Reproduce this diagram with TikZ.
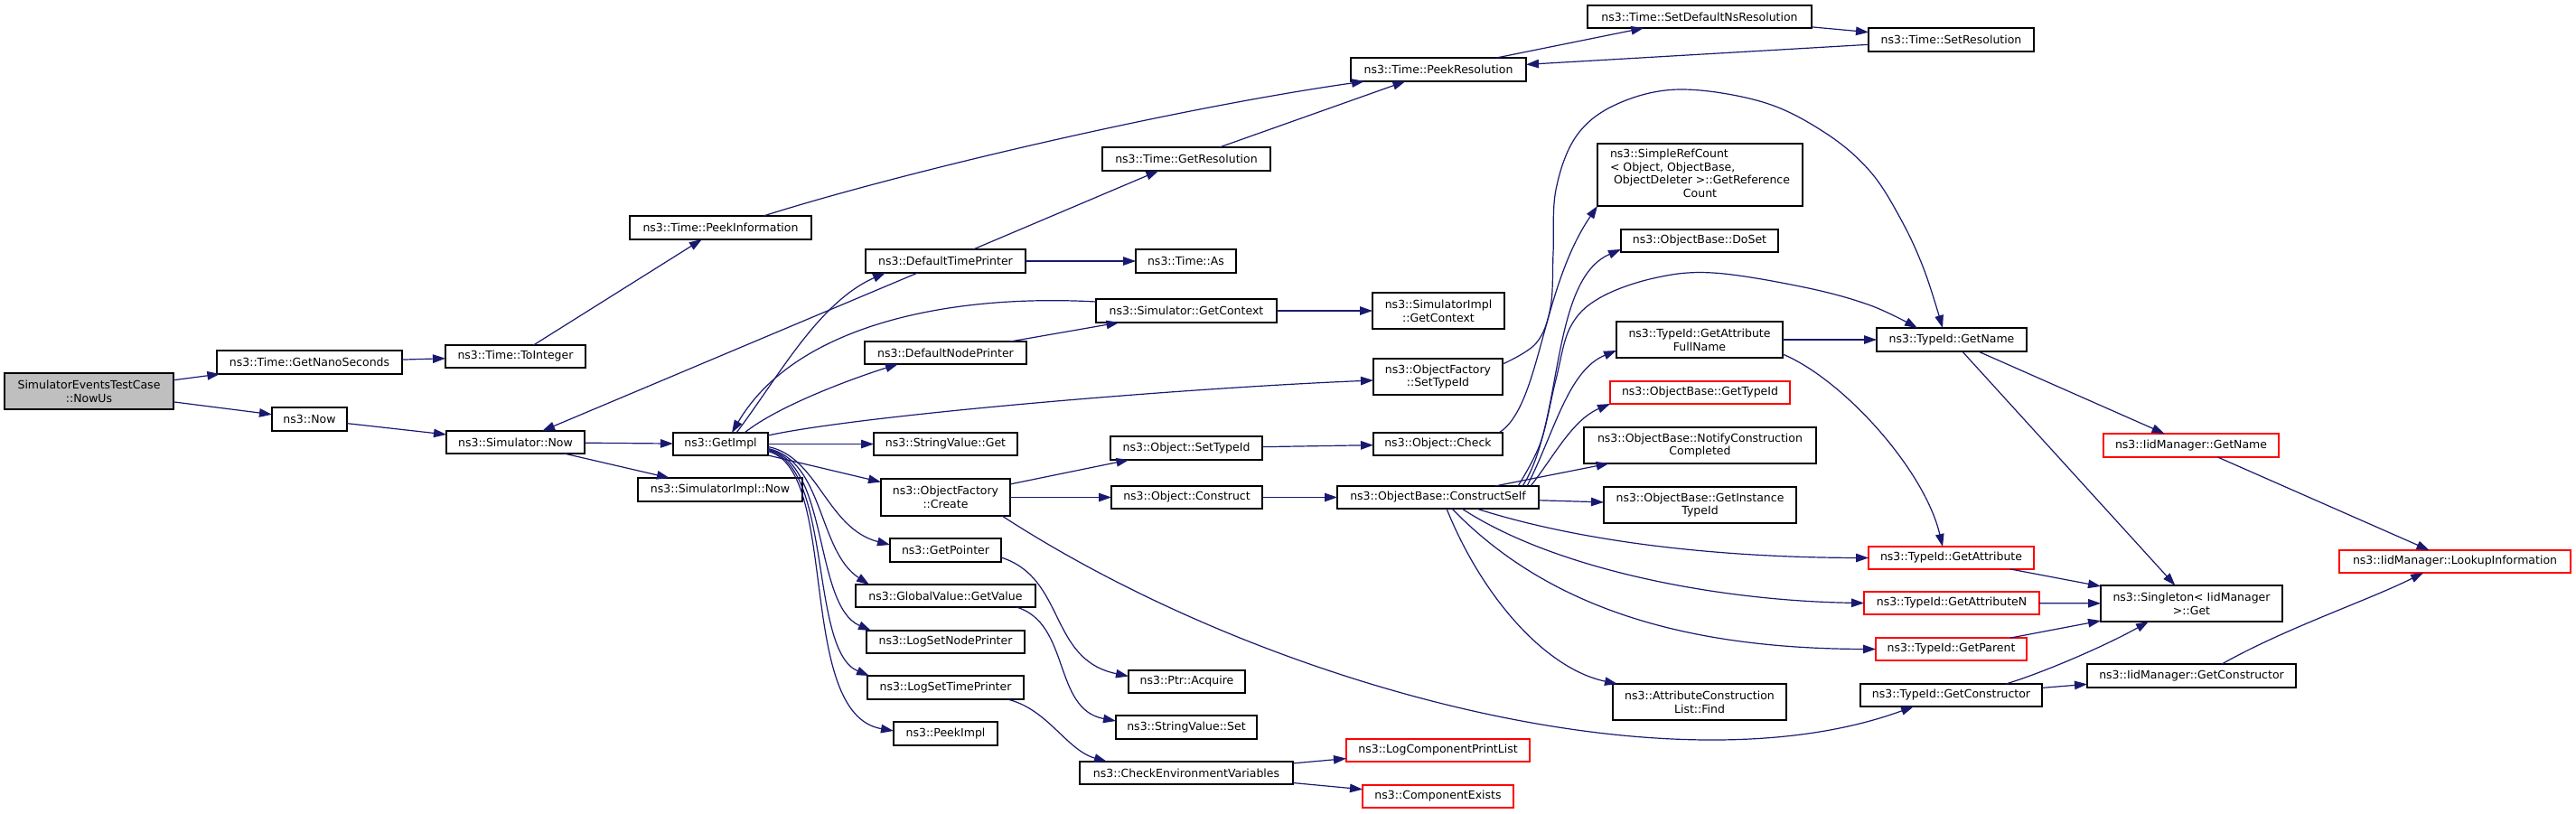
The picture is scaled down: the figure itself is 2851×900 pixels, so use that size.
\documentclass[tikz,border=0pt]{standalone}
\usepackage{fontspec}
\setmainfont{DejaVu Sans}
\usetikzlibrary{arrows.meta,calc}
\definecolor{mblue}{HTML}{191970}
\definecolor{nodegray}{HTML}{BFBFBF}
\begin{document}
\begin{tikzpicture}[x=1pt,y=-1pt,
  box/.style={draw=black, line width=1.2pt, fill=white, inner sep=0pt, outer sep=0pt, align=center, font=\fontsize{12.5}{14.7}\selectfont},
  redbox/.style={box, draw=red},
  call/.style={draw=mblue, line width=1.2pt, -{Triangle[length=14pt,width=9.5pt]}},
]
\fill[white] (0,0) rectangle (2851,900);
\useasboundingbox (0,0) rectangle (2851,900);

% ---------- nodes ----------
\node[box, fill=nodegray, minimum width=187pt, minimum height=40pt] (nowus) at (98.5,433) {SimulatorEventsTestCase\\::NowUs};
\node[box, minimum width=205pt, minimum height=26pt] (getnano) at (342.5,401) {ns3::Time::GetNanoSeconds};
\node[box, minimum width=155pt, minimum height=25pt] (toint) at (570.5,394.5) {ns3::Time::ToInteger};
\node[box, minimum width=83pt, minimum height=26pt] (now) at (342.5,464) {ns3::Now};
\node[box, minimum width=153pt, minimum height=25pt] (simnow) at (570.5,489.5) {ns3::Simulator::Now};
\node[box, minimum width=201pt, minimum height=26pt] (peekinfo) at (797.5,252) {ns3::Time::PeekInformation};
\node[box, minimum width=186pt, minimum height=26pt] (getres) at (1313,176) {ns3::Time::GetResolution};
\node[box, minimum width=177pt, minimum height=26pt] (dtp) at (1046.5,289) {ns3::DefaultTimePrinter};
\node[box, minimum width=111pt, minimum height=26pt] (timeas) at (1312.5,289) {ns3::Time::As};
\node[box, minimum width=200pt, minimum height=26pt] (simgetctx) at (1313,344) {ns3::Simulator::GetContext};
\node[box, minimum width=179pt, minimum height=25pt] (dnp) at (1046.5,390.5) {ns3::DefaultNodePrinter};
\node[box, minimum width=105pt, minimum height=25pt] (getimpl) at (797.5,491.5) {ns3::GetImpl};
\node[box, minimum width=182pt, minimum height=26pt] (simimplnow) at (797,542) {ns3::SimulatorImpl::Now};
\node[box, minimum width=159pt, minimum height=25pt] (svget) at (1046.5,491.5) {ns3::StringValue::Get};
\node[box, minimum width=143pt, minimum height=41pt] (ofcreate) at (1046.5,550.5) {ns3::ObjectFactory\\::Create};
\node[box, minimum width=168pt, minimum height=26pt] (objsettid) at (1313,496) {ns3::Object::SetTypeId};
\node[box, minimum width=167pt, minimum height=25pt] (objconstruct) at (1313.5,550.5) {ns3::Object::Construct};
\node[box, minimum width=123pt, minimum height=26pt] (getpointer) at (1046.5,609) {ns3::GetPointer};
\node[box, minimum width=199pt, minimum height=25pt] (gvgetvalue) at (1046.5,659.5) {ns3::GlobalValue::GetValue};
\node[box, minimum width=175pt, minimum height=25pt] (lsnp) at (1046.5,710.5) {ns3::LogSetNodePrinter};
\node[box, minimum width=173pt, minimum height=26pt] (lstp) at (1046.5,761) {ns3::LogSetTimePrinter};
\node[box, minimum width=115pt, minimum height=26pt] (peekimpl) at (1046.5,812) {ns3::PeekImpl};
\node[box, minimum width=129pt, minimum height=25pt] (ptracq) at (1313.5,754.5) {ns3::Ptr::Acquire};
\node[box, minimum width=156pt, minimum height=26pt] (svset) at (1313,805) {ns3::StringValue::Set};
\node[box, minimum width=236pt, minimum height=25pt] (checkenv) at (1313,855.5) {ns3::CheckEnvironmentVariables};
\node[box, minimum width=194pt, minimum height=26pt] (peekres) at (1592,77) {ns3::Time::PeekResolution};
\node[box, minimum width=248pt, minimum height=25pt] (setdefns) at (1881,18.5) {ns3::Time::SetDefaultNsResolution};
\node[box, minimum width=183pt, minimum height=26pt] (setres) at (2159.5,44) {ns3::Time::SetResolution};
\node[box, minimum width=227pt, minimum height=69pt] (simplerefcount) at (1881.5,193.5) {\begin{tabular}{@{}l@{}}ns3::SimpleRefCount\\< Object, ObjectBase,\\\ ObjectDeleter >::GetReference\\\multicolumn{1}{@{}c@{}}{Count}\end{tabular}};
\node[box, minimum width=174pt, minimum height=25pt] (doset) at (1881,266.5) {ns3::ObjectBase::DoSet};
\node[box, minimum width=146pt, minimum height=40pt] (simimplgetctx) at (1592,344) {ns3::SimulatorImpl\\::GetContext};
\node[box, minimum width=143pt, minimum height=40pt] (ofsettid) at (1591.5,417) {ns3::ObjectFactory\\::SetTypeId};
\node[box, minimum width=184pt, minimum height=40pt] (gafn) at (1881,376) {ns3::TypeId::GetAttribute\\FullName};
\node[redbox, minimum width=199pt, minimum height=25pt] (obgettid) at (1881.5,434.5) {ns3::ObjectBase::GetTypeId};
\node[box, minimum width=166pt, minimum height=26pt] (getname) at (2160,376) {ns3::TypeId::GetName};
\node[box, minimum width=143pt, minimum height=25pt] (objcheck) at (1591.5,491.5) {ns3::Object::Check};
\node[box, minimum width=257pt, minimum height=40pt] (notify) at (1881.5,493) {ns3::ObjectBase::NotifyConstruction\\Completed};
\node[box, minimum width=223pt, minimum height=25pt] (constructself) at (1591.5,550.5) {ns3::ObjectBase::ConstructSelf};
\node[box, minimum width=213pt, minimum height=40pt] (getinst) at (1881.5,559) {ns3::ObjectBase::GetInstance\\TypeId};
\node[box, minimum width=192pt, minimum height=40pt] (acfind) at (1881,777) {ns3::AttributeConstruction\\List::Find};
\node[redbox, minimum width=203pt, minimum height=25pt] (lcpl) at (1591.5,830.5) {ns3::LogComponentPrintList};
\node[redbox, minimum width=167pt, minimum height=25pt] (compexists) at (1591.5,881.5) {ns3::ComponentExists};
\node[redbox, minimum width=183pt, minimum height=25pt] (getattr) at (2159.5,617.5) {ns3::TypeId::GetAttribute};
\node[redbox, minimum width=194pt, minimum height=25pt] (getattrn) at (2160,667.5) {ns3::TypeId::GetAttributeN};
\node[redbox, minimum width=167pt, minimum height=25pt] (getparent) at (2159.5,718.5) {ns3::TypeId::GetParent};
\node[box, minimum width=201pt, minimum height=25pt] (getctor) at (2159.5,769.5) {ns3::TypeId::GetConstructor};
\node[redbox, minimum width=194pt, minimum height=26pt] (iidgetname) at (2425,493) {ns3::IidManager::GetName};
\node[redbox, minimum width=256pt, minimum height=25pt] (lookup) at (2717,621.5) {ns3::IidManager::LookupInformation};
\node[box, minimum width=201pt, minimum height=40pt] (singleton) at (2425.5,668) {ns3::Singleton< IidManager\\>::Get};
\node[box, minimum width=231pt, minimum height=26pt] (iidgetctor) at (2425.5,748) {ns3::IidManager::GetConstructor};

% ---------- helper coordinates ----------
\coordinate (ofs1) at ($(ofsettid.north east)+(0,6)$);
\coordinate (gn2) at ($(getname.north west)+(73,0)$);
\coordinate (cs1) at ($(constructself.north east)+(-23,0)$);
\coordinate (gn1) at ($(getname.north west)+(45,0)$);

% ---------- edges ----------
\draw[call] (nowus) -- (getnano);
\draw[call] (nowus) -- (now);
\draw[call] (getnano) -- (toint);
\draw[call] (toint) -- (peekinfo);
\draw[call] ($(peekinfo.north west)+(148,0)$) .. controls (1000,190) and (1300,120) .. ($(peekres.south west)+(15,0)$);
\draw[call] (getres) -- (peekres);
\draw[call] (peekres) -- (setdefns);
\draw[call] (setdefns) -- (setres);
\draw[call] (setres) -- (peekres);
\draw[call] (now) -- (simnow);
\draw[call] (dtp) -- (simnow);
\draw[call] (dtp) -- (getres);
\draw[call] (dtp) -- (timeas);
\draw[call] (simnow) -- (getimpl);
\draw[call] (simnow) -- (simimplnow);
\draw[call] ($(getimpl.north west)+(70,0)$) .. controls (860,420) and (905,335) .. ($(dtp.south west)+(22,0)$);
\draw[call] ($(simgetctx.west)+(0,-10)$) .. controls (1050,325) and (880,360) .. ($(getimpl.north west)+(65,0)$);
\draw[call] ($(getimpl.north west)+(79,0)$) .. controls (860,450) and (940,420) .. ($(dnp.south west)+(37,0)$);
\draw[call] (dnp) -- (simgetctx);
\draw[call] (simgetctx) -- (simimplgetctx);
\draw[call] ($(getimpl.north east)+(0,3)$) .. controls (950,460) and (1300,430) .. ($(ofsettid.west)+(0,4)$);
\draw[call] (getimpl) -- (svget);
\draw[call] (getimpl) -- (ofcreate);
\draw[call] ($(getimpl.east)+(0,3)$) .. controls (905,505) and (915,585) .. ($(getpointer.west)+(0,-6)$);
\draw[call] ($(getimpl.east)+(0,5)$) .. controls (912,510) and (905,610) .. ($(gvgetvalue.north west)+(15,0)$);
\draw[call] ($(getimpl.east)+(0,6)$) .. controls (918,512) and (900,670) .. ($(lsnp.north west)+(5,0)$);
\draw[call] ($(getimpl.east)+(0,7)$) .. controls (922,515) and (895,720) .. ($(lstp.north west)+(2,0)$);
\draw[call] ($(getimpl.east)+(0,8)$) .. controls (930,520) and (880,790) .. ($(peekimpl.west)+(0,-3)$);
\draw[call] (ofcreate) -- (objsettid);
\draw[call] (ofcreate) -- (objconstruct);
\draw[call] ($(ofcreate.south east)+(-9,0)$) .. controls (1400,760) and (1850,880) .. ($(getctor.south west)+(59,0)$);
\draw[call] (objsettid) -- (objcheck);
\draw[call] (objconstruct) -- (constructself);
\draw[call] plot[smooth, tension=0.6] coordinates {(ofs1) (1700,380) (1716,340) (1719,280) (1722,210) (1745,150) (1790,115) (1859,99) (1951,113) (2020,147) (2070,190) (2105,245) (2130,300) (gn2)};
\draw[call] ($(objcheck.north east)+(-4,0)$) .. controls (1705,450) and (1705,320) .. (simplerefcount.south west);
\draw[call] ($(constructself.north east)+(-18,0)$) .. controls (1730,470) and (1715,310) .. ($(doset.south west)+(0,-3)$);
\draw[call] ($(constructself.north east)+(-13,0)$) .. controls (1720,480) and (1735,410) .. ($(gafn.south west)+(0,-8)$);
\draw[call] ($(constructself.north east)+(-9,0)$) .. controls (1720,505) and (1740,465) .. (obgettid.south west);
\draw[call] plot[smooth, tension=0.6] coordinates {(cs1) (1705,490) (1722,420) (1738,362) (1770,330) (1830,308) (1896,302) (1997,318) (2070,338) (gn1)};
\draw[call] (constructself) -- (notify);
\draw[call] (constructself) -- (getinst);
\draw[call] ($(constructself.south west)+(154,0)$) .. controls (1750,600) and (1900,617) .. (getattr.west);
\draw[call] ($(constructself.south west)+(138,0)$) .. controls (1720,630) and (1900,665) .. (getattrn.west);
\draw[call] ($(constructself.south west)+(127,0)$) .. controls (1720,680) and (1880,718) .. (getparent.west);
\draw[call] ($(constructself.south west)+(121,0)$) .. controls (1640,660) and (1710,740) .. ($(acfind.north west)+(5,0)$);
\draw[call] (gafn) -- (getname);
\draw[call] ($(gafn.east)+(0,16)$) .. controls (2040,420) and (2130,520) .. ($(getattr.north west)+(82,0)$);
\draw[call] (getname) -- (iidgetname);
\draw[call] (getname) -- (singleton);
\draw[call] (iidgetname) -- (lookup);
\draw[call] (getattr) -- (singleton);
\draw[call] (getattrn) -- (singleton);
\draw[call] (getparent) -- (singleton);
\draw[call] ($(getctor.north east)+(-40,0)$) .. controls (2260,745) and (2330,715) .. ($(singleton.south west)+(53,0)$);
\draw[call] (getctor) -- (iidgetctor);
\draw[call] ($(iidgetctor.north west)+(149,0)$) .. controls (2530,695) and (2620,665) .. ($(lookup.south west)+(93,0)$);
\draw[call] ($(getpointer.east)+(0,8)$) .. controls (1180,640) and (1160,730) .. ($(ptracq.west)+(0,-6)$);
\draw[call] ($(gvgetvalue.south east)+(-21,0)$) .. controls (1185,690) and (1165,785) .. ($(svset.west)+(0,-7)$);
\draw[call] ($(lstp.south east)+(-18,0)$) .. controls (1160,785) and (1180,830) .. ($(checkenv.north west)+(30,0)$);
\draw[call] (checkenv) -- (lcpl);
\draw[call] (checkenv) -- (compexists);
\end{tikzpicture}
\end{document}
